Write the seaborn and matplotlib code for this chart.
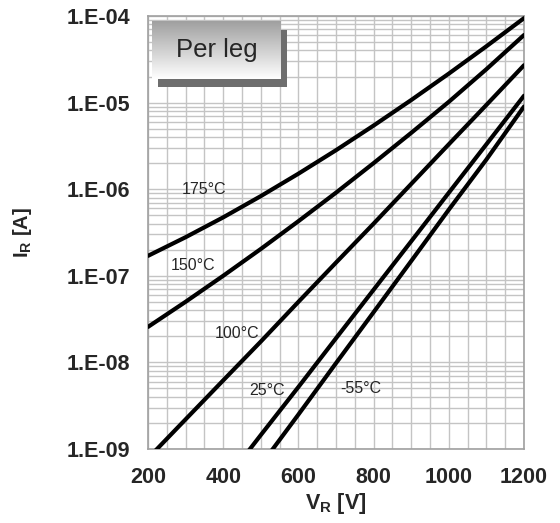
import numpy as np
import pandas as pd
import matplotlib
matplotlib.use("Agg")
import matplotlib.pyplot as plt
import matplotlib.ticker as mticker
from matplotlib.patches import Rectangle
import seaborn as sns

# ---- data ----
v_175 = [200, 300, 400, 500, 600, 700, 800, 900, 1000, 1100, 1200]
i_175 = [1.70e-7, 2.79e-7, 4.73e-7, 8.32e-7, 1.51e-6, 2.82e-6, 5.43e-6, 1.07e-5, 2.16e-5, 4.47e-5, 9.44e-5]
v_150 = [200, 300, 400, 500, 600, 700, 800, 900, 1000, 1100, 1200]
i_150 = [2.57e-8, 5.01e-8, 1.0e-7, 2.04e-7, 4.27e-7, 9.12e-7, 2.0e-6, 4.47e-6, 1.02e-5, 2.43e-5, 6.03e-5]
v_100 = [200, 300, 400, 500, 600, 700, 800, 900, 1000, 1100, 1200]
i_100 = [7.8e-10, 2.2e-9, 6.2e-9, 1.74e-8, 5.0e-8, 1.42e-7, 4.0e-7, 1.15e-6, 3.3e-6, 9.4e-6, 2.7e-5]
v_25 = [450, 500, 600, 700, 800, 900, 1000, 1100, 1200]
i_25 = [7.6e-10, 1.45e-9, 5.2e-9, 1.9e-8, 6.9e-8, 2.5e-7, 9.1e-7, 3.3e-6, 1.2e-5]
v_m55 = [500, 600, 700, 800, 900, 1000, 1100, 1200]
i_m55 = [6.5e-10, 2.5e-9, 9.8e-9, 3.8e-8, 1.48e-7, 5.8e-7, 2.2e-6, 9.0e-6]

series_names = ["175°C", "150°C", "100°C", "25°C", "-55°C"]
label_v = [349, 320, 437, 516, 766]
label_i = [9.8e-7, 1.33e-7, 2.13e-8, 4.68e-9, 4.93e-9]

x_ticks = [200, 400, 600, 800, 1000, 1200]
y_ticks = [1e-9, 1e-8, 1e-7, 1e-6, 1e-5, 1e-4]

frames = []
for name, v, i in zip(series_names,
                      [v_175, v_150, v_100, v_25, v_m55],
                      [i_175, i_150, i_100, i_25, i_m55]):
    frames.append(pd.DataFrame({"V": v, "I": i, "T": name}))
df = pd.concat(frames, ignore_index=True)

# ---- style ----
sns.set_style("white")
plt.rcParams["font.family"] = ["Liberation Sans", "DejaVu Sans"]
plt.rcParams["mathtext.fontset"] = "custom"
plt.rcParams["mathtext.rm"] = "Liberation Sans:bold"
plt.rcParams["mathtext.bf"] = "Liberation Sans:bold"
plt.rcParams["mathtext.it"] = "Liberation Sans:bold"

fig = plt.figure(figsize=(5.6, 5.23), dpi=100)
ax = fig.add_axes([148 / 560, 1 - 449 / 523, (524 - 148) / 560, (449 - 16) / 523])

sns.lineplot(data=df, x="V", y="I", hue="T", palette=["black"] * 5,
             linewidth=3.0, legend=False, ax=ax, sort=False, zorder=5)

ax.set_yscale("log")
ax.set_xlim(200, 1200)
ax.set_ylim(1e-9, 1e-4)

ax.set_xticks(x_ticks)
ax.xaxis.set_minor_locator(mticker.MultipleLocator(50))
ax.set_yticks(y_ticks)
ax.yaxis.set_minor_locator(mticker.LogLocator(base=10, subs=np.arange(2, 10)))
ax.yaxis.set_minor_formatter(mticker.NullFormatter())
ax.yaxis.set_major_formatter(mticker.FuncFormatter(
    lambda y, p: "1.E-%02d" % int(round(-np.log10(y)))))

ax.grid(True, which="both", color="#c4c4c4", linewidth=1.0)
ax.set_axisbelow(True)
for s in ax.spines.values():
    s.set_color("#a0a0a0")
    s.set_linewidth(1.2)

ax.tick_params(axis="both", which="major", labelsize=15.5, pad=13,
               direction="in", length=6, color="#808080", width=1.2)
ax.tick_params(axis="both", which="minor", length=0)
for lab in ax.get_xticklabels() + ax.get_yticklabels():
    lab.set_fontweight("bold")

ax.set_xlabel("V$_{\\mathrm{R}}$ [V]", fontsize=15.5, fontweight="bold", labelpad=2)
ax.set_ylabel("I$_{\\mathrm{R}}$ [A]", fontsize=14.5, fontweight="bold", labelpad=23)

for name, lv, li in zip(series_names, label_v, label_i):
    ax.text(lv, li, name, fontsize=11.5, ha="center", va="center", zorder=6)

# ---- "Per leg" box with shadow and gradient ----
W, H = 560, 523
fig.patches.append(Rectangle((158 / W, 1 - 87 / H), (287 - 158) / W, (87 - 30) / H,
                             transform=fig.transFigure, facecolor="#6e6e6e",
                             edgecolor="none", zorder=10))
bax = fig.add_axes([152 / W, 1 - 79 / H, (281 - 152) / W, (79 - 21) / H], zorder=11)
grad = np.linspace(0, 1, 100).reshape(-1, 1)
bax.imshow(grad, aspect="auto", cmap=matplotlib.colors.LinearSegmentedColormap.from_list(
    "g", ["#a0a0a0", "#ffffff"]), extent=[0, 1, 0, 1], origin="upper")
bax.set_axis_off()
bax.text(0.5, 0.5, "Per leg", fontsize=18.5, ha="center", va="center",
         transform=bax.transAxes)

fig.savefig("out.png", dpi=100)
